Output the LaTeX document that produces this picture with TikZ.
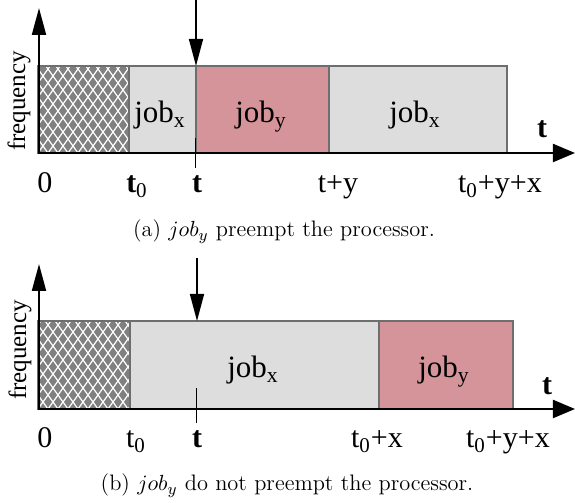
\documentclass[tikz,border=0pt]{standalone}
\usepackage{amsmath}
\usepackage{fontspec}
\usepackage{tikz}
\usetikzlibrary{arrows.meta}

\newfontfamily\timesfont{Liberation Serif}
\definecolor{jobgrey}{RGB}{221,221,221}
\definecolor{jobpink}{RGB}{213,148,153}
\definecolor{hatchgrey}{RGB}{128,128,128}
\definecolor{edgegrey}{RGB}{110,110,110}

\begin{document}
\begin{tikzpicture}[x=0.5pt,y=0.5pt,
    jobbox/.style={draw=edgegrey,line width=0.6pt},
    timeaxis/.style={line width=1pt,-{Triangle[length=11pt,width=9pt]}},
    freqaxis/.style={line width=1pt,-{Triangle[length=13.5pt,width=7pt]}},
    arrival/.style={line width=0.8pt,-{Triangle[length=13.5pt,width=7pt]}},
    ticklabel/.style={font=\timesfont\fontsize{15}{18}\selectfont,anchor=base},
    joblabel/.style={font=\timesfont\fontsize{15.5}{18}\selectfont,anchor=base},
    freqlabel/.style={font=\timesfont\fontsize{12.5}{14}\selectfont,rotate=90},
    caption/.style={font=\fontsize{11.2}{13}\selectfont,anchor=base}]
  \useasboundingbox (0,0) rectangle (575,503);

  % ---------- (a) job_y preempts ----------
  \coordinate (oA) at (38,350);
  \coordinate (yA) at (39,495);
  \coordinate (xA) at (575,350);
  \coordinate (inA) at (196,503);
  \coordinate (topA) at (196,437);

  \fill[hatchgrey] (38,350) rectangle (129,437);
  \begin{scope}
    \clip (38,350) rectangle (129,437);
    \foreach \k in {-80,-70,...,170}{
      \draw[white,line width=0.6pt] (38+\k,350) -- ++(70,98);
      \draw[white,line width=0.6pt] (38+\k,350) -- ++(-70,98);
    }
  \end{scope}
  \draw[jobbox] (38,350) rectangle (129,437);
  \draw[jobbox,fill=jobgrey] (129,350) rectangle (196,437);
  \draw[jobbox,fill=jobpink] (196,350) rectangle (329,437);
  \draw[jobbox,fill=jobgrey] (329,350) rectangle (507,437);

  \node[joblabel] (jxA) at (160,380) {job\textsubscript{x}};
  \node[joblabel] (jyA) at (261,380) {job\textsubscript{y}};
  \node[joblabel] (jxxA) at (415,380) {job\textsubscript{x}};

  \draw[freqaxis] (39,350) -- (yA);
  \draw[timeaxis] (oA) -- (xA);
  \draw[arrival] (inA) -- (topA);
  \draw[line width=0.5pt] (196,365) -- (196,335);

  \node[freqlabel] (fA) at (19,402) {frequency};
  \node[ticklabel,font=\timesfont\bfseries\fontsize{15}{18}\selectfont] (tA) at (542,365) {t};
  \node[ticklabel] (l0A) at (45,310) {0};
  \node[ticklabel] (lt0A) at (137,310) {\textbf{t}\textsubscript{0}};
  \node[ticklabel] (ltA) at (197,310) {\textbf{t}};
  \node[ticklabel] (ltyA) at (338,310) {t+y};
  \node[ticklabel] (ltyxA) at (500,310) {t\textsubscript{0}+y+x};

  \node[caption] (capA) at (284,266) {(a) $job_y$ preempt the processor.};

  % ---------- (b) job_y waits ----------
  \coordinate (oB) at (38,94);
  \coordinate (yB) at (39,239);
  \coordinate (xB) at (575,94);
  \coordinate (inB) at (197,245);
  \coordinate (topB) at (197,182);

  \fill[hatchgrey] (38,94) rectangle (130,182);
  \begin{scope}
    \clip (38,94) rectangle (130,182);
    \foreach \k in {-80,-70,...,170}{
      \draw[white,line width=0.6pt] (38+\k,94) -- ++(70,98);
      \draw[white,line width=0.6pt] (38+\k,94) -- ++(-70,98);
    }
  \end{scope}
  \draw[jobbox] (38,94) rectangle (130,182);
  \draw[jobbox,fill=jobgrey] (130,94) rectangle (379,182);
  \draw[jobbox,fill=jobpink] (379,94) rectangle (513,182);

  \node[joblabel] (jxB) at (253,125) {job\textsubscript{x}};
  \node[joblabel] (jyB) at (444,125) {job\textsubscript{y}};

  \draw[freqaxis] (39,94) -- (yB);
  \draw[timeaxis] (oB) -- (xB);
  \draw[arrival] (inB) -- (topB);
  \draw[line width=0.5pt] (197,115) -- (197,80);

  \node[freqlabel] (fB) at (20,153) {frequency};
  \node[ticklabel,font=\timesfont\bfseries\fontsize{15}{18}\selectfont] (tB) at (547,108) {t};
  \node[ticklabel] (l0B) at (45,55) {0};
  \node[ticklabel] (lt0B) at (136,55) {t\textsubscript{0}};
  \node[ticklabel] (ltB) at (197,55) {\textbf{t}};
  \node[ticklabel] (ltxB) at (377,55) {t\textsubscript{0}+x};
  \node[ticklabel] (ltyxB) at (508,55) {t\textsubscript{0}+y+x};

  \node[caption] (capB) at (287,12) {(b) $job_y$ do not preempt the processor.};
\end{tikzpicture}
\end{document}
